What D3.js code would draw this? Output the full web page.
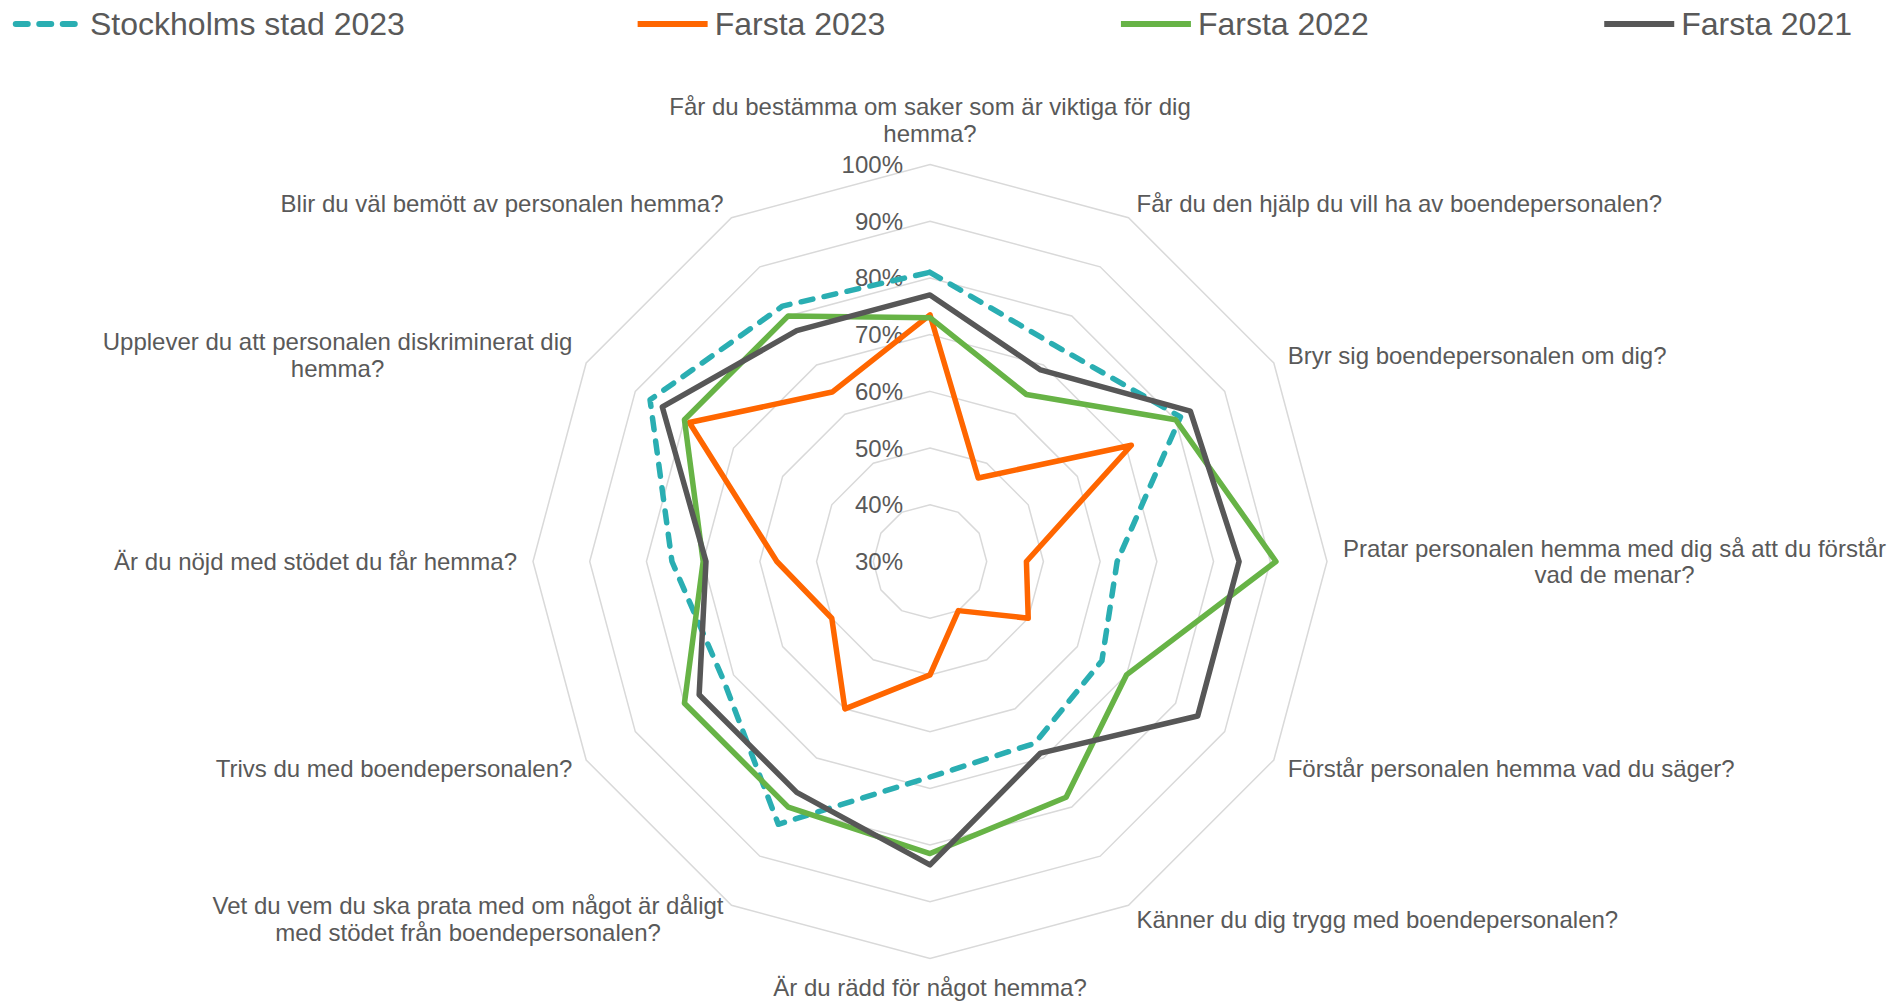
<!DOCTYPE html>
<html>
<head>
<meta charset="utf-8">
<script src="https://cdn.jsdelivr.net/npm/d3@7"></script>
<style>
    body { margin: 0; background: #ffffff; }
    svg text { font-family: "Liberation Sans", Arial, sans-serif; fill: #595959; }
</style>
</head>
<body>
<svg id="chart" width="1890" height="1002"></svg>
<script>
"use strict";

// categories (clockwise from the top), one entry per line of the label
const categories = [
    ["Får du bestämma om saker som är viktiga för dig", "hemma?"],
    ["Får du den hjälp du vill ha av boendepersonalen?"],
    ["Bryr sig boendepersonalen om dig?"],
    ["Pratar personalen hemma med dig så att du förstår", "vad de menar?"],
    ["Förstår personalen hemma vad du säger?"],
    ["Känner du dig trygg med boendepersonalen?"],
    ["Är du rädd för något hemma?"],
    ["Vet du vem du ska prata med om något är dåligt", "med stödet från boendepersonalen?"],
    ["Trivs du med boendepersonalen?"],
    ["Är du nöjd med stödet du får hemma?"],
    ["Upplever du att personalen diskriminerat dig", "hemma?"],
    ["Blir du väl bemött av personalen hemma?"]
];

// series names
const seriesNames = ["Stockholms stad 2023", "Farsta 2023", "Farsta 2022", "Farsta 2021"];

// series values (percent)
const stockholm2023 = [81, 74, 81, 63, 65, 67, 68, 83.5, 72, 75.5, 87, 82];
const farsta2023 = [73.5, 47, 71, 47, 50, 40, 50, 60, 50, 57, 79, 64.5];
const farsta2022 = [73, 64, 80, 91, 70, 78, 81.5, 80, 80, 70, 80, 80];
const farsta2021 = [77, 69, 83, 84.5, 84.5, 69, 83.5, 77, 77, 69.5, 84.5, 77];

// radial axis ticks
const tickValues = [30, 40, 50, 60, 70, 80, 90, 100];



// setting
const setting = {
    center: { x: 930, y: 561.5 },
    radius: 397,
    labelOffset: 16,
    fontSize: 24,
    lineHeight: 26.5,
    lineWidth: 5.5,
    dash: "12 11.5",
    legend: { y: 24, left: 13, right: 1852, fontSize: 32, sample: 70, sampleToText: 7 },
    colors: ["#2AAEB2", "#FF6600", "#67B346", "#575757"],
    grid: "#D9D9D9"
};

let series = [stockholm2023, farsta2023, farsta2022, farsta2021];



// scales
let scaleR = d3.scaleLinear()
.domain([30, 100])
.range([0, setting.radius]);

let scaleAngle = d3.scaleLinear()
.domain([0, categories.length])
.range([0, 2 * Math.PI]);

let scaleColor = d3.scaleOrdinal()
.domain(seriesNames)
.range(setting.colors);



// initialize
let chart = d3.select("#chart");

let plot = chart.append("g")
.attr("class", "plot")
.attr("transform", `translate(${setting.center.x}, ${setting.center.y})`);

let radial = d3.lineRadial()
.angle((_, i) => scaleAngle(i))
.curve(d3.curveLinearClosed);



// grid rings
plot.append("g")
.attr("class", "grid")
.selectAll("path")
.data(tickValues.filter(t => t > 30))
.enter()
.append("path")
.attr("d", t => radial.radius(() => scaleR(t))(categories))
.attr("fill", "none")
.attr("stroke", setting.grid)
.attr("stroke-width", 1.5);



// tick labels
plot.append("g")
.attr("class", "ticks")
.selectAll("text")
.data(tickValues)
.enter()
.append("text")
.attr("x", -27)
.attr("y", t => -scaleR(t))
.attr("text-anchor", "end")
.attr("dominant-baseline", "central")
.attr("font-size", setting.fontSize)
.text(t => t + "%");



// series lines
plot.append("g")
.attr("class", "series")
.selectAll("path")
.data(series)
.enter()
.append("path")
.attr("d", d => radial.radius(v => scaleR(v))(d))
.attr("fill", "none")
.attr("stroke", (_, i) => scaleColor(seriesNames[i]))
.attr("stroke-width", setting.lineWidth)
.attr("stroke-linejoin", "round")
.attr("stroke-linecap", (_, i) => i == 0 ? "round" : "butt")
.attr("stroke-dasharray", (_, i) => i == 0 ? setting.dash : null);



// axis labels
plot.append("g")
.attr("class", "axis_labels")
.selectAll("g")
.data(categories)
.enter()
.append("g")
.each(function(lines, i) {
    let a = scaleAngle(i);
    let sx = Math.sin(a), cy = Math.cos(a);
    let r = setting.radius + setting.labelOffset;
    let ax = r * sx, ay = -r * cy;
    let g = d3.select(this);

    let texts = g.selectAll("text")
    .data(lines)
    .enter()
    .append("text")
    .attr("font-size", setting.fontSize)
    .attr("dominant-baseline", "central")
    .attr("text-anchor", "middle")
    .text(l => l);

    let widths = [];
    texts.each(function() { widths.push(this.getComputedTextLength()); });
    let blockW = d3.max(widths);
    let blockH = lines.length * setting.lineHeight;

    // horizontal centre of the block
    let bx = ax;
    if(sx > 0.1) bx = ax + blockW / 2;
    else if(sx < -0.1) bx = ax - blockW / 2;

    // vertical top of the block
    let top = ay - blockH / 2;
    if(Math.abs(sx) <= 0.1) top = cy > 0 ? ay - blockH - 2 : ay;

    texts
    .attr("x", bx)
    .attr("y", (_, k) => top + setting.lineHeight * (k + 0.5));
});



// legend
let legend = chart.append("g")
.attr("class", "legend");

let items = legend.selectAll("g")
.data(seriesNames)
.enter()
.append("g");

const cap = setting.lineWidth / 2;
items.append("line")
.attr("x1", (_, i) => i == 0 ? cap : 0)
.attr("x2", (_, i) => i == 0 ? setting.legend.sample - cap : setting.legend.sample)
.attr("y1", 0)
.attr("y2", 0)
.attr("stroke", d => scaleColor(d))
.attr("stroke-width", 6)
.attr("stroke-linecap", (_, i) => i == 0 ? "round" : "butt")
.attr("stroke-dasharray", (_, i) => i == 0 ? setting.dash : null);

items.append("text")
.attr("x", setting.legend.sample + setting.legend.sampleToText)
.attr("dominant-baseline", "central")
.attr("font-size", setting.legend.fontSize)
.text(d => d);

// spread the items with equal gaps
let itemWidths = [];
items.each(function() { itemWidths.push(this.getBBox().width); });
let gap = (setting.legend.right - setting.legend.left - d3.sum(itemWidths)) / (seriesNames.length - 1);
let pos = setting.legend.left;
items.attr("transform", (_, i) => {
    let t = `translate(${pos}, ${setting.legend.y})`;
    pos += itemWidths[i] + gap;
    return t;
});
</script>
</body>
</html>
